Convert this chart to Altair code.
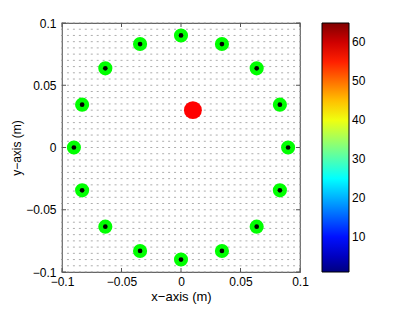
import altair as alt
import pandas as pd

# grid positions of the quiver field (m)
grid_vals = [-0.1, -0.095, -0.09, -0.085, -0.08, -0.075, -0.07, -0.065, -0.06, -0.055,
             -0.05, -0.045, -0.04, -0.035, -0.03, -0.025, -0.02, -0.015, -0.01, -0.005,
             0.0, 0.005, 0.01, 0.015, 0.02, 0.025, 0.03, 0.035, 0.04, 0.045,
             0.05, 0.055, 0.06, 0.065, 0.07, 0.075, 0.08, 0.085, 0.09, 0.095, 0.1]

# ring of sensors (green with black centre)
ring_x = [0.09, 0.0831, 0.0636, 0.0344, 0.0, -0.0344, -0.0636, -0.0831,
          -0.09, -0.0831, -0.0636, -0.0344, 0.0, 0.0344, 0.0636, 0.0831]
ring_y = [0.0, 0.0344, 0.0636, 0.0831, 0.09, 0.0831, 0.0636, 0.0344,
          0.0, -0.0344, -0.0636, -0.0831, -0.09, -0.0831, -0.0636, -0.0344]

# source (red)
src_x = [0.01]
src_y = [0.03]

# colorbar
cbar_range = [1, 65]
cbar_ticks = [10, 20, 30, 40, 50, 60]
jet = ["#000080", "#0000ff", "#0080ff", "#00ffff", "#80ff80",
       "#ffff00", "#ff8000", "#ff0000", "#800000"]

axis_ticks = [-0.1, -0.05, 0, 0.05, 0.1]

grid = pd.DataFrame([(gx, gy) for gx in grid_vals for gy in grid_vals], columns=["x", "y"])
ring = pd.DataFrame({"x": ring_x, "y": ring_y})
src = pd.DataFrame({"x": src_x, "y": src_y})
cb = pd.DataFrame({"x": [0.0, 0.0], "y": [0.0, 0.0], "c": cbar_range})
tk = pd.DataFrame({"t": axis_ticks})

FONT = "Liberation Sans"
FS = 12
xs = alt.Scale(domain=[-0.1, 0.1], nice=False)
ys = alt.Scale(domain=[-0.1, 0.1], nice=False)

xax = alt.Axis(values=axis_ticks, format="~g", title="x\u2212axis (m)", grid=False,
               domain=False, ticks=False, labelPadding=4, titlePadding=3,
               labelFont=FONT, titleFont=FONT, labelFontSize=FS, titleFontSize=FS + 1,
               titleFontWeight="normal", labelColor="black", titleColor="black",
               labelFlush=False)
yax = alt.Axis(values=axis_ticks, format="~g", title="y\u2212axis (m)", grid=False,
               domain=False, ticks=False, labelPadding=6, titlePadding=2,
               labelFont=FONT, titleFont=FONT, labelFontSize=FS, titleFontSize=FS,
               titleFontWeight="normal", labelColor="black", titleColor="black",
               labelFlush=False)

quiver = alt.Chart(grid).mark_tick(orient="horizontal", size=2, thickness=1, color="#8a8a8a").encode(
    x=alt.X("x:Q", scale=xs, axis=xax),
    y=alt.Y("y:Q", scale=ys, axis=yax),
)

legend_layer = alt.Chart(cb).mark_point(opacity=0).encode(
    x=alt.X("x:Q", scale=xs),
    y=alt.Y("y:Q", scale=ys),
    color=alt.Color("c:Q",
                    scale=alt.Scale(domain=cbar_range, range=jet, interpolate="rgb", nice=False, zero=False),
                    legend=alt.Legend(orient="none", legendX=260, legendY=0, title=None,
                                      direction="vertical", gradientLength=249,
                                      gradientThickness=27, values=cbar_ticks,
                                      gradientStrokeColor="black", gradientStrokeWidth=1,
                                      labelFont=FONT, labelFontSize=FS, labelColor="black",
                                      labelOffset=3)),
)

green = alt.Chart(ring).mark_circle(size=200, color="#00ff00", opacity=1).encode(
    x=alt.X("x:Q", scale=xs), y=alt.Y("y:Q", scale=ys))
black = alt.Chart(ring).mark_circle(size=22, color="black", opacity=1).encode(
    x=alt.X("x:Q", scale=xs), y=alt.Y("y:Q", scale=ys))
red = alt.Chart(src).mark_circle(size=320, color="#ff0000", opacity=1).encode(
    x=alt.X("x:Q", scale=xs), y=alt.Y("y:Q", scale=ys))

tick_b = alt.Chart(tk).mark_rule(color="#555", strokeWidth=1).encode(
    x=alt.X("t:Q", scale=xs), y=alt.value(249), y2=alt.value(245))
tick_t = alt.Chart(tk).mark_rule(color="#555", strokeWidth=1).encode(
    x=alt.X("t:Q", scale=xs), y=alt.value(0), y2=alt.value(4))
tick_l = alt.Chart(tk).mark_rule(color="#555", strokeWidth=1).encode(
    y=alt.Y("t:Q", scale=ys), x=alt.value(0), x2=alt.value(4))
tick_r = alt.Chart(tk).mark_rule(color="#555", strokeWidth=1).encode(
    y=alt.Y("t:Q", scale=ys), x=alt.value(238), x2=alt.value(234))

chart = alt.layer(quiver, legend_layer, tick_b, tick_t, tick_l, tick_r, green, black, red).properties(
    width=238, height=249,
    autosize=alt.AutoSizeParams(type="none"),
    padding={"left": 54, "top": 15, "right": 100, "bottom": 35},
    background="white",
).configure_view(stroke="#666", strokeWidth=1.2)

chart.save("out.html", embed_options={"renderer": "svg", "actions": False})
